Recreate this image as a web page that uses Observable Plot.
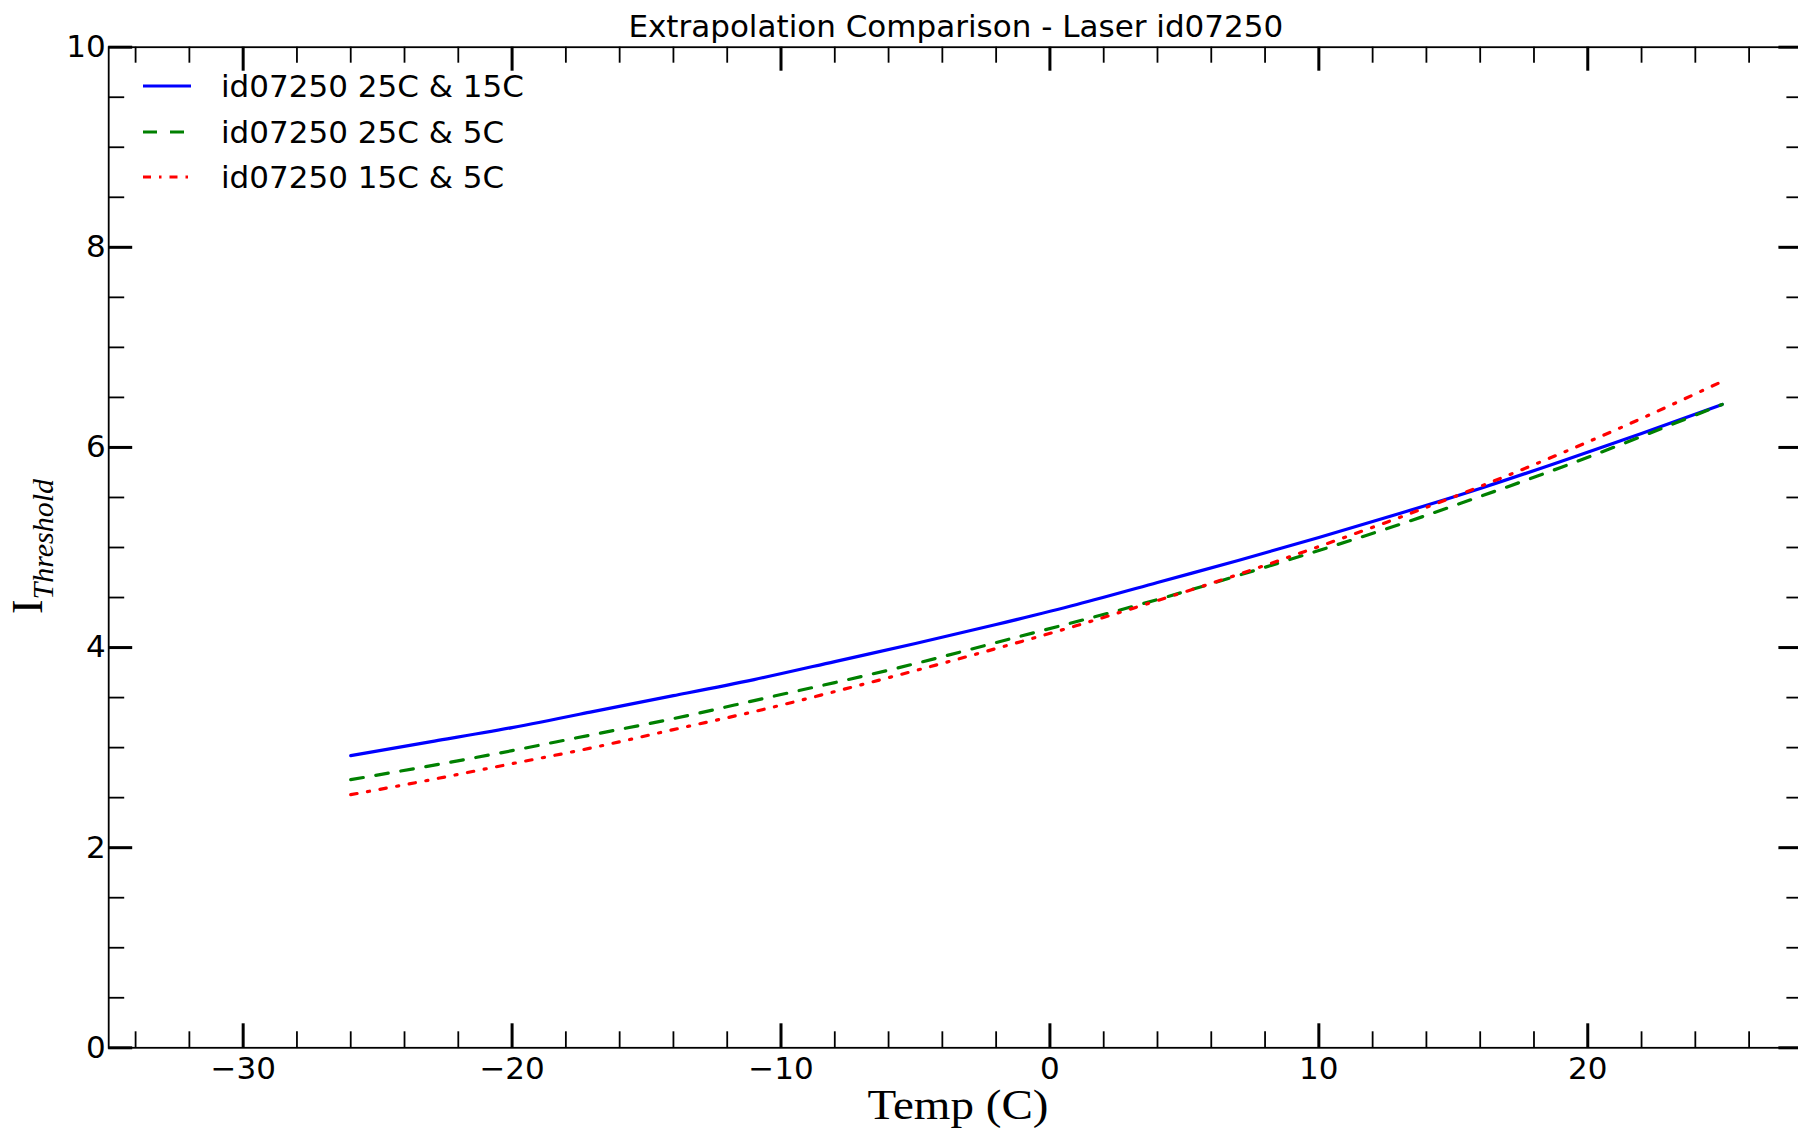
<!DOCTYPE html>
<html><head><meta charset="utf-8">
<script src="https://cdn.jsdelivr.net/npm/d3@7"></script>
<script src="https://cdn.jsdelivr.net/npm/@observablehq/plot@0.6"></script>
<style>
html,body{margin:0;padding:0;background:#fff;overflow:hidden;}
#chart{position:relative;width:1798px;height:1130px;overflow:hidden;}
</style></head><body><div id="chart"></div>
<script>
// ---- data ----
const titleText = "Extrapolation Comparison - Laser id07250";
const xLabel = "Temp (C)";
const seriesNames = ["id07250 25C & 15C", "id07250 25C & 5C", "id07250 15C & 5C"];
const temps = [-26, -23, -20, -17, -14, -11, -8, -5, -2, 1, 4, 7, 10, 13, 16, 19, 22, 25];
const fit25and15 = [2.92, 3.06, 3.20, 3.36, 3.52, 3.68, 3.86, 4.04, 4.23, 4.43, 4.65, 4.87, 5.10, 5.34, 5.59, 5.86, 6.14, 6.43];
const fit25and5  = [2.68, 2.82, 2.97, 3.13, 3.29, 3.47, 3.65, 3.84, 4.05, 4.26, 4.48, 4.72, 4.97, 5.23, 5.51, 5.80, 6.11, 6.43];
const fit15and5  = [2.53, 2.68, 2.84, 3.00, 3.18, 3.36, 3.56, 3.77, 3.99, 4.22, 4.47, 4.73, 5.01, 5.30, 5.61, 5.94, 6.29, 6.66];
const xMajorTicks = [-30, -20, -10, 0, 10, 20];
const xMinorTicks = [-34, -32, -28, -26, -24, -22, -18, -16, -14, -12, -8, -6, -4, -2, 2, 4, 6, 8, 12, 14, 16, 18, 22, 24, 26];
const yMajorTicks = [0, 2, 4, 6, 8, 10];
const yMinorTicks = [0.5, 1, 1.5, 2.5, 3, 3.5, 4.5, 5, 5.5, 6.5, 7, 7.5, 8.5, 9, 9.5];
const xDomain = [-35, 28];
const yDomain = [0, 10];

// ---- styles ----
const colors = ["#0000ff", "#008000", "#ff0000"];
const dashes = [null, "12.7,12.7", "6.4,10.6,2.1,10.6"];
const W = 1798, H = 1130;
const mL = 108.2, mT = 46.7, mB = 82.7, mR = -4.4;
const frameW = W - mL - mR, frameH = H - mT - mB;
const majLen = 24, minLen = 16;
const sans = "DejaVu Sans";
const serif = "Liberation Serif";
const fmt = d => d < 0 ? "\u2212" + (-d) : String(d);

const seriesValues = [fit25and15, fit25and5, fit15and5];
const rows = seriesValues.map(vals => temps.map((t, i) => ({t, v: vals[i]})));

const tickMarks = [];
for (const [ticks, len, sw] of [[xMajorTicks, majLen, 3], [xMinorTicks, minLen, 1.8]]) {
  tickMarks.push(Plot.tickX(ticks, {x: d => d, insetTop: frameH - len, stroke: "black", strokeWidth: sw}));
  tickMarks.push(Plot.tickX(ticks, {x: d => d, insetBottom: frameH - len, stroke: "black", strokeWidth: sw}));
}
for (const [ticks, len, sw] of [[yMajorTicks, majLen, 3], [yMinorTicks, minLen, 1.8]]) {
  tickMarks.push(Plot.tickY(ticks, {y: d => d, insetRight: frameW - len, stroke: "black", strokeWidth: sw}));
  tickMarks.push(Plot.tickY(ticks, {y: d => d, insetLeft: frameW - len, stroke: "black", strokeWidth: sw}));
}

const plot = Plot.plot({
  width: W, height: H,
  marginLeft: mL, marginTop: mT, marginBottom: mB, marginRight: mR,
  style: {fontFamily: sans, fontSize: "31px", color: "black", background: "white"},
  x: {domain: xDomain, label: null},
  y: {domain: yDomain, label: null},
  marks: [
    ...rows.map((r, i) => Plot.line(r, {
      x: "t", y: "v", stroke: colors[i], strokeWidth: 3.2, curve: "natural",
      strokeDasharray: dashes[i] ?? undefined
    })),
    Plot.frame({stroke: "black", strokeWidth: 1.8}),
    ...tickMarks,
    Plot.axisX({ticks: xMajorTicks, tickSize: 0, tickPadding: 9, tickFormat: fmt, fontSize: 31, fontFamily: sans, label: null}),
    Plot.axisY({ticks: yMajorTicks, tickSize: 0, tickPadding: 3, tickFormat: fmt, fontSize: 31, fontFamily: sans, label: null}),
    Plot.text([titleText], {frameAnchor: "top", dy: -20.5, fontSize: 31, fontFamily: sans, lineAnchor: "middle", fill: "black"})
  ]
});
document.getElementById("chart").appendChild(plot);

const svg = d3.select(plot);
// x label
svg.append("text")
  .attr("x", 958).attr("y", 1119)
  .attr("text-anchor", "middle")
  .attr("fill", "black")
  .attr("textLength", 181).attr("lengthAdjust", "spacingAndGlyphs")
  .style("font-family", serif).style("font-size", "42px")
  .text(xLabel);

// y label: I_{Threshold}
const yl = svg.append("text")
  .attr("transform", "translate(41.7,546.5) rotate(-90)")
  .attr("text-anchor", "middle")
  .attr("fill", "black")
  .style("font-family", serif);
yl.append("tspan").style("font-size", "44px").text("I");
yl.append("tspan").attr("dy", 11).style("font-size", "30px").style("font-style", "italic").text("Threshold");

// legend
const lg = svg.append("g");
const legY = [86, 132, 177];
seriesNames.forEach((name, i) => {
  lg.append("line").attr("x1", 143).attr("x2", 191).attr("y1", legY[i]).attr("y2", legY[i])
    .attr("stroke", colors[i]).attr("stroke-width", 3.2)
    .attr("stroke-dasharray", i === 1 ? "14,13" : i === 2 ? "8,8,2.5,8" : null);
  lg.append("text").attr("x", 221).attr("y", legY[i]).attr("dy", "0.36em")
    .attr("text-anchor", "start")
    .attr("fill", "black").style("font-family", sans).style("font-size", "31px").text(name);
});
</script>
</body></html>
